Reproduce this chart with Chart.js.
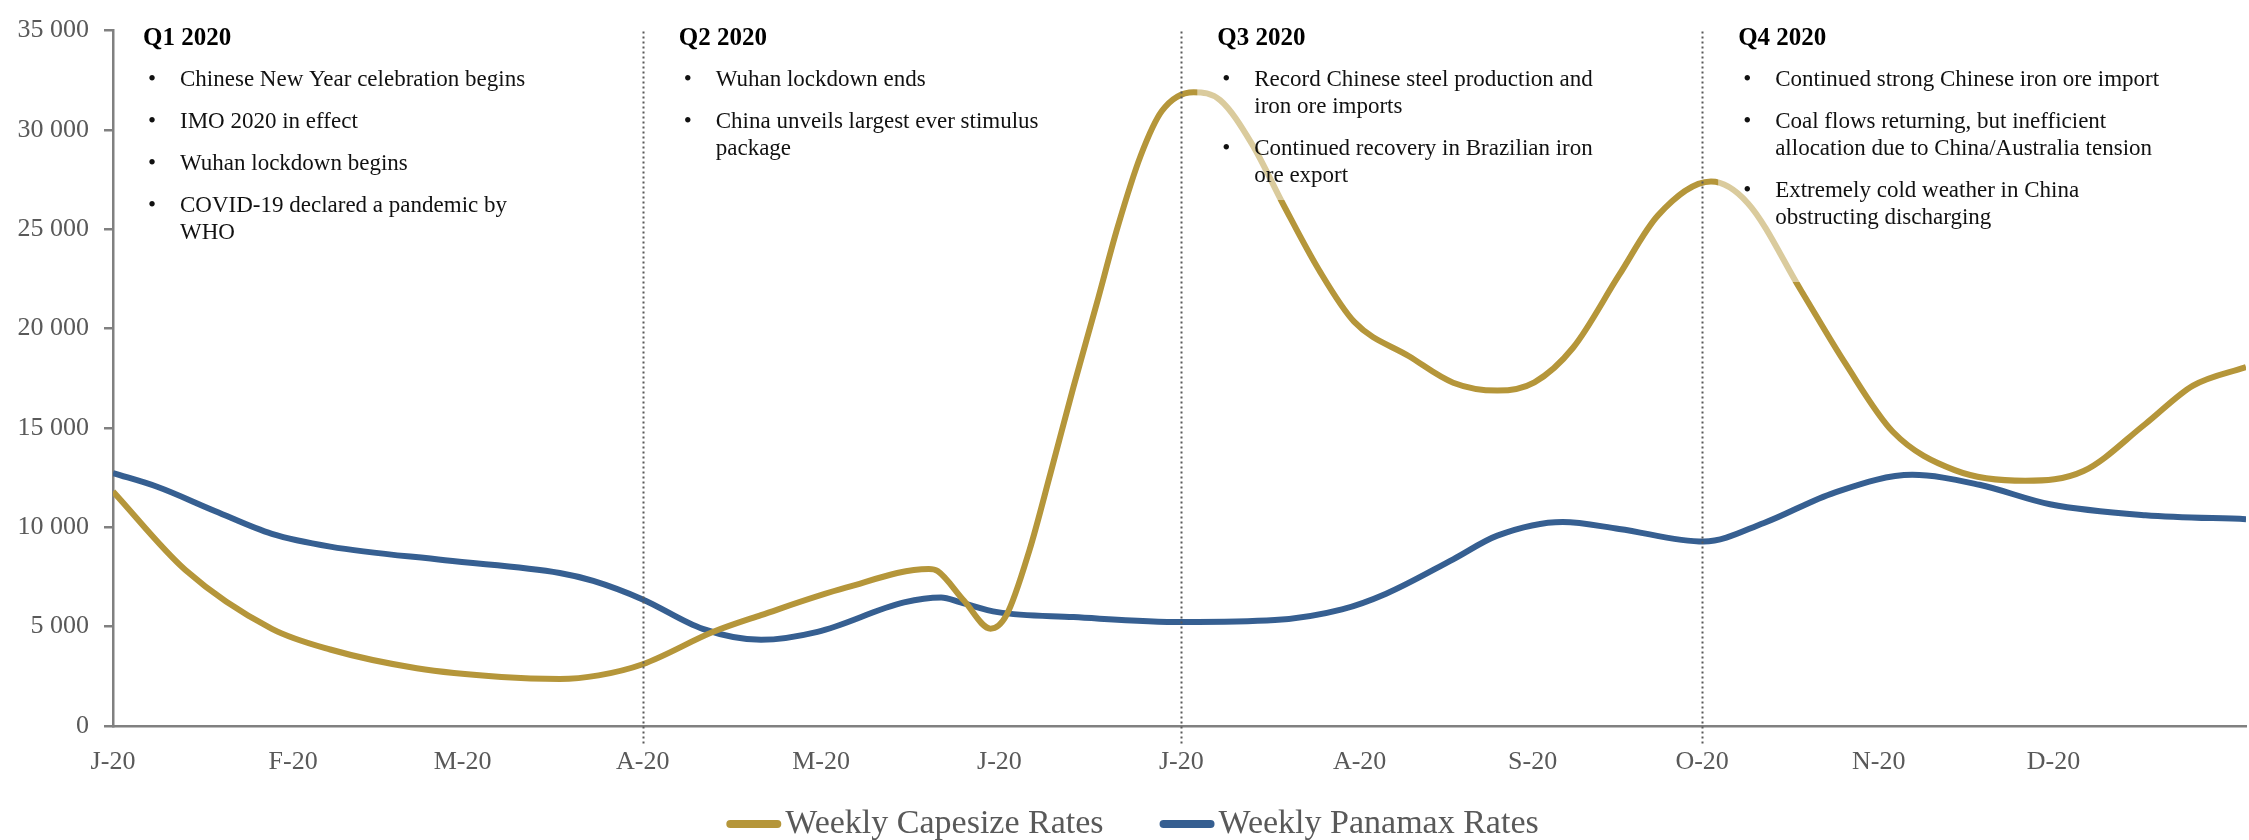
<!DOCTYPE html>
<html>
<head>
<meta charset="utf-8">
<title>Weekly Capesize and Panamax Rates 2020</title>
<script src="https://cdn.jsdelivr.net/npm/chart.js@4.4.1/dist/chart.umd.min.js"></script>
<style>
  html, body { margin: 0; padding: 0; background: #fff; }
  canvas { display: block; }
</style>
</head>
<body>
<canvas id="ratesChart" width="2249" height="840"></canvas>
<script>
// Trục X: nhãn tháng và vị trí (đơn vị = tháng kể từ đầu năm)
const monthLabels = ['J-20', 'F-20', 'M-20', 'A-20', 'M-20', 'J-20', 'J-20', 'A-20', 'S-20', 'O-20', 'N-20', 'D-20'];
const monthTicks = [0, 1.02, 1.98, 3, 4.01, 5.02, 6.05, 7.06, 8.04, 9, 10, 10.99];
const yTickValues = [0, 5000, 10000, 15000, 20000, 25000, 30000, 35000];

// Capesize (USD/day)
const capeMonths = [0, 0.41, 0.9, 1.23, 1.72, 2.2, 2.53, 2.75, 3.0, 3.4, 3.67, 4.15, 4.62, 4.67, 4.82, 4.97, 5.06, 5.19, 5.31, 5.44, 5.57, 5.69, 5.82, 5.94, 6.12, 6.27, 6.45, 6.63, 6.83, 7.03, 7.34, 7.59, 7.84, 8.05, 8.27, 8.53, 8.75, 9.05, 9.26, 9.56, 9.81, 10.08, 10.43, 10.83, 11.16, 11.51, 11.78, 12.08];
const capeRates = [11800, 7850, 4890, 3850, 2910, 2470, 2370, 2550, 3110, 4740, 5580, 6960, 7900, 7800, 6300, 4900, 5580, 8840, 12740, 17080, 21220, 25120, 28700, 30950, 31900, 31500, 29300, 26210, 22950, 20340, 18610, 17280, 16880, 17300, 19050, 22700, 25700, 27400, 26300, 21920, 18260, 14810, 12880, 12340, 12830, 15200, 17130, 18070];

// Panamax (USD/day)
const panaMonths = [0, 0.25, 0.58, 0.9, 1.23, 1.88, 2.53, 2.72, 3.0, 3.34, 3.67, 3.99, 4.48, 4.69, 4.8, 5.01, 5.44, 6.06, 6.58, 6.96, 7.21, 7.59, 7.84, 8.21, 8.53, 9.01, 9.35, 9.75, 10.19, 10.57, 10.97, 11.51, 12.08];
const panaRates = [12730, 12040, 10810, 9670, 9030, 8340, 7700, 7300, 6370, 4890, 4340, 4740, 6220, 6470, 6220, 5730, 5480, 5230, 5330, 5870, 6660, 8390, 9580, 10270, 9920, 9280, 10220, 11750, 12640, 12140, 11160, 10610, 10410];

// Ghi chú theo quý
const quarterStarts = [0, 3, 6.05, 9];
const quarterTitles = ['Q1 2020', 'Q2 2020', 'Q3 2020', 'Q4 2020'];
const quarterNotes = [
    [['Chinese New Year celebration begins'], ['IMO 2020 in effect'], ['Wuhan lockdown begins'], ['COVID-19 declared a pandemic by', 'WHO']],
    [['Wuhan lockdown ends'], ['China unveils largest ever stimulus', 'package']],
    [['Record Chinese steel production and', 'iron ore imports'], ['Continued recovery in Brazilian iron', 'ore export']],
    [['Continued strong Chinese iron ore import'], ['Coal flows returning, but inefficient', 'allocation due to China/Australia tension'], ['Extremely cold weather in China', 'obstructing discharging']]
];

const FONT = '"Liberation Serif", "DejaVu Serif", serif';
const GOLD = '#B5963A';
const BLUE = '#365F91';
const AXIS = '#808080';
const LABEL = '#595959';

function spaced(v) {
    return String(v).replace(/\B(?=(\d{3})+(?!\d))/g, ' ');
}

// Khung ghi chú (nền trắng mờ) + đường chấm chia quý
const quarterPlugin = {
    id: 'quarterNotes',
    afterDatasetsDraw(chart) {
        const { ctx, chartArea, scales: { x } } = chart;
        const bottomPad = [24, 24, 24, 64];
        ctx.save();

        quarterStarts.forEach((m, i) => {
            const titleX = x.getPixelForValue(m) + (i === 0 ? 30 : 36);
            const textX = titleX + 37;

            // tính vị trí các dòng
            const rows = [];
            let y = 80;
            quarterNotes[i].forEach((item, k) => {
                if (k > 0) y += 42;
                item.forEach((line, j) => {
                    if (j > 0) y += 27;
                    rows.push({ text: line, y: y, bullet: j === 0 });
                });
            });

            ctx.font = '23px ' + FONT;
            const widest = Math.max(...rows.map(r => ctx.measureText(r.text).width));
            const boxLeft = titleX - 20;
            const boxBottom = rows[rows.length - 1].y + bottomPad[i];
            ctx.fillStyle = 'rgba(255,255,255,0.5)';
            ctx.fillRect(boxLeft, chartArea.top + 4, textX + widest + 20 - boxLeft, boxBottom - chartArea.top - 4);

            ctx.fillStyle = '#000';
            ctx.textBaseline = 'middle';
            ctx.textAlign = 'left';
            ctx.font = 'bold 25px ' + FONT;
            ctx.fillText(quarterTitles[i], titleX, 39);

            ctx.font = '23px ' + FONT;
            ctx.fillStyle = '#111';
            rows.forEach(r => {
                if (r.bullet) ctx.fillText('\u2022', titleX + 5, r.y);
                ctx.fillText(r.text, textX, r.y);
            });
        });

        // đường chấm tại đầu mỗi quý (trừ Q1)
        ctx.strokeStyle = LABEL;
        ctx.lineWidth = 2;
        ctx.setLineDash([2, 3]);
        quarterStarts.slice(1).forEach(m => {
            const px = Math.round(x.getPixelForValue(m)) + 0.5;
            ctx.beginPath();
            ctx.moveTo(px, chartArea.top + 1);
            ctx.lineTo(px, chartArea.bottom + 20);
            ctx.stroke();
        });
        ctx.restore();
    }
};

// Chú thích ở dưới
const legendPlugin = {
    id: 'bottomLegend',
    afterDraw(chart) {
        const ctx = chart.ctx;
        const sets = chart.data.datasets;
        const sample = 55, gap = 4, between = 56;
        ctx.save();
        ctx.font = '34px ' + FONT;
        const widths = sets.map(d => ctx.measureText(d.label).width);
        const total = widths.reduce((s, w) => s + sample + gap + w, 0) + between * (sets.length - 1);
        let xPos = chart.width / 2 - total / 2 + 8;
        const yPos = 824;
        ctx.textBaseline = 'middle';
        sets.forEach((d, i) => {
            ctx.strokeStyle = d.borderColor;
            ctx.lineWidth = 8;
            ctx.lineCap = 'round';
            ctx.beginPath();
            ctx.moveTo(xPos + 4, yPos);
            ctx.lineTo(xPos + sample - 4, yPos);
            ctx.stroke();
            ctx.fillStyle = LABEL;
            ctx.fillText(d.label, xPos + sample + gap, yPos);
            xPos += sample + gap + widths[i] + between;
        });
        ctx.restore();
    }
};

document.addEventListener('DOMContentLoaded', function() {
    const ctx = document.getElementById('ratesChart').getContext('2d');

    new Chart(ctx, {
        type: 'line',
        data: {
            datasets: [
                {
                    label: 'Weekly Capesize Rates',
                    data: capeMonths.map((m, i) => ({ x: m, y: capeRates[i] })),
                    borderColor: GOLD,
                    backgroundColor: GOLD,
                    borderWidth: 6,
                    pointRadius: 0,
                    cubicInterpolationMode: 'monotone',
                    fill: false
                },
                {
                    label: 'Weekly Panamax Rates',
                    data: panaMonths.map((m, i) => ({ x: m, y: panaRates[i] })),
                    borderColor: BLUE,
                    backgroundColor: BLUE,
                    borderWidth: 6,
                    pointRadius: 0,
                    cubicInterpolationMode: 'monotone',
                    fill: false
                }
            ]
        },
        options: {
            responsive: false,
            animation: false,
            layout: { padding: { top: 17, right: 3, left: 0, bottom: 0 } },
            plugins: {
                legend: { display: false },
                tooltip: { enabled: false }
            },
            scales: {
                x: {
                    type: 'linear',
                    min: 0,
                    max: 12.08,
                    afterBuildTicks: scale => {
                        scale.ticks = monthTicks.map(v => ({ value: v }));
                    },
                    afterFit: scale => { scale.height = 114; },
                    grid: { display: false },
                    border: { color: AXIS, width: 2.5 },
                    ticks: {
                        autoSkip: false,
                        maxRotation: 0,
                        padding: 13,
                        color: LABEL,
                        font: { family: FONT, size: 26 },
                        callback: (v, i) => monthLabels[i]
                    }
                },
                y: {
                    min: 0,
                    max: 35000,
                    afterBuildTicks: scale => {
                        scale.ticks = yTickValues.map(v => ({ value: v }));
                    },
                    afterFit: scale => { scale.width = 113; },
                    grid: { drawOnChartArea: false, tickLength: 9, color: AXIS, lineWidth: 2.5 },
                    border: { color: AXIS, width: 2.5 },
                    ticks: {
                        padding: 15,
                        color: LABEL,
                        font: { family: FONT, size: 26 },
                        callback: v => spaced(v)
                    }
                }
            }
        },
        plugins: [quarterPlugin, legendPlugin]
    });
});
</script>
</body>
</html>
